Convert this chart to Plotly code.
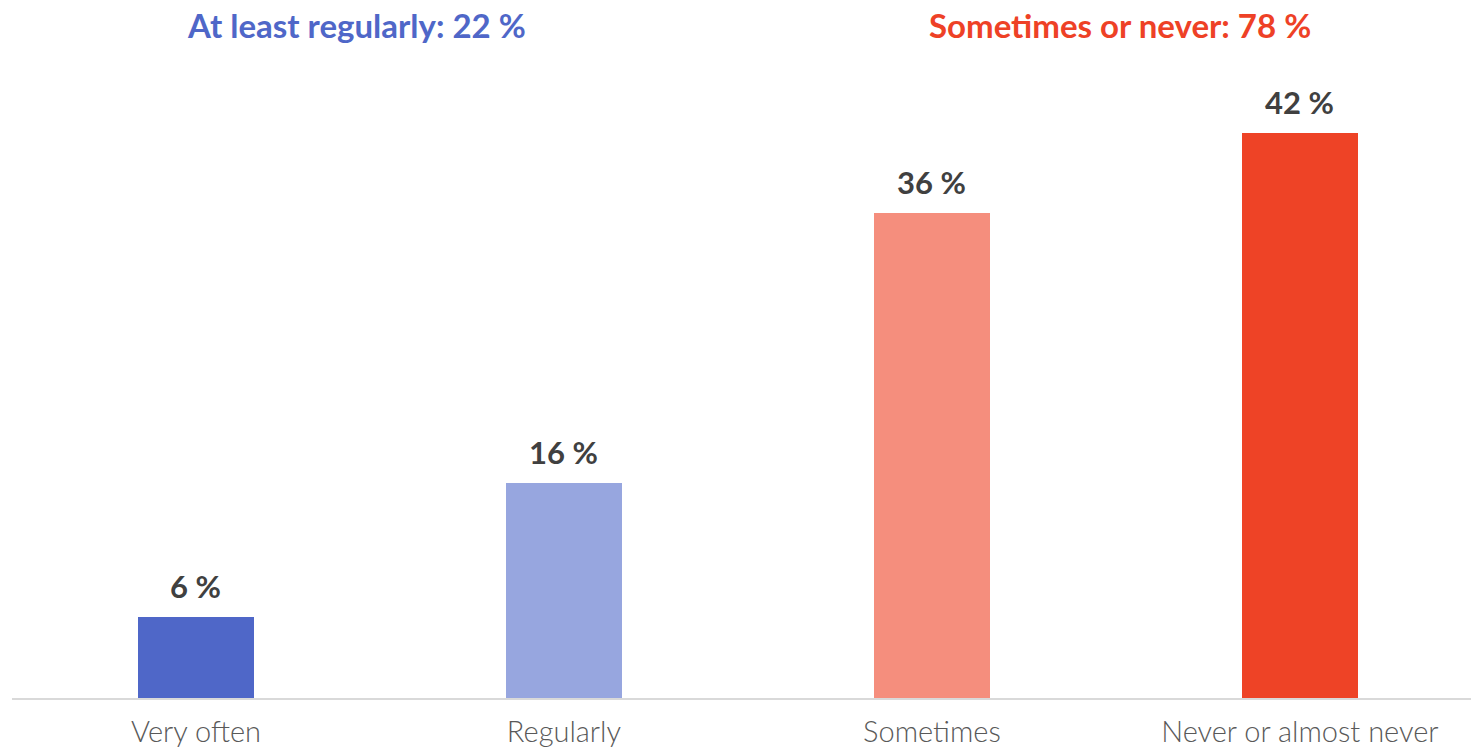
import plotly.graph_objects as go

categories = ["Very often", "Regularly", "Sometimes", "Never or almost never"]
values = [6, 16, 36, 42]
value_labels = ["6 %", "16 %", "36 %", "42 %"]
bar_colors = ["#4F67C8", "#97A6DF", "#F58E7D", "#EE4326"]
group_titles = ["At least regularly: 22 %", "Sometimes or never: 78 %"]
group_colors = ["#4F67C8", "#EE4126"]

FONT = "Lato"

fig = go.Figure()
fig.add_trace(go.Bar(
    x=list(range(len(categories))),
    y=values,
    width=0.315,
    marker=dict(color=bar_colors, line=dict(width=0)),
    hoverinfo="skip",
))

for i, (v, lab) in enumerate(zip(values, value_labels)):
    fig.add_annotation(
        x=i, y=v, xref="x", yref="y",
        text="<b>%s</b>" % lab, showarrow=False,
        xanchor="center", yanchor="bottom", yshift=10,
        font=dict(family=FONT, size=31, color="#404040"),
    )

fig.update_layout(
    width=1471, height=752,
    margin=dict(l=12, r=0, t=25, b=54),
    paper_bgcolor="white", plot_bgcolor="white",
    showlegend=False,
    bargap=0,
    xaxis=dict(
        range=[-0.5, 3.465],
        tickmode="array",
        tickvals=list(range(len(categories))),
        ticktext=categories,
        tickfont=dict(family=FONT, size=29, color="#595959", weight=300),
        ticklabelstandoff=7,
        automargin=False,
        showgrid=False, zeroline=False,
        showline=True, linecolor="#D9D9D9", linewidth=2,
        ticks="", ticklen=0,
    ),
    yaxis=dict(range=[0, 50], visible=False, showgrid=False, zeroline=False,
               automargin=False),
)

fig.add_annotation(
    x=(356 - 12) / 1459, y=1.0, xref="paper", yref="paper",
    xanchor="center", yanchor="middle",
    text="<b>%s</b>" % group_titles[0], showarrow=False,
    font=dict(family=FONT, size=33, color=group_colors[0]),
)
fig.add_annotation(
    x=(1120 - 12) / 1459, y=1.0, xref="paper", yref="paper",
    xanchor="center", yanchor="middle",
    text="<b>%s</b>" % group_titles[1], showarrow=False,
    font=dict(family=FONT, size=33, color=group_colors[1]),
)

fig.write_html("out.html")
